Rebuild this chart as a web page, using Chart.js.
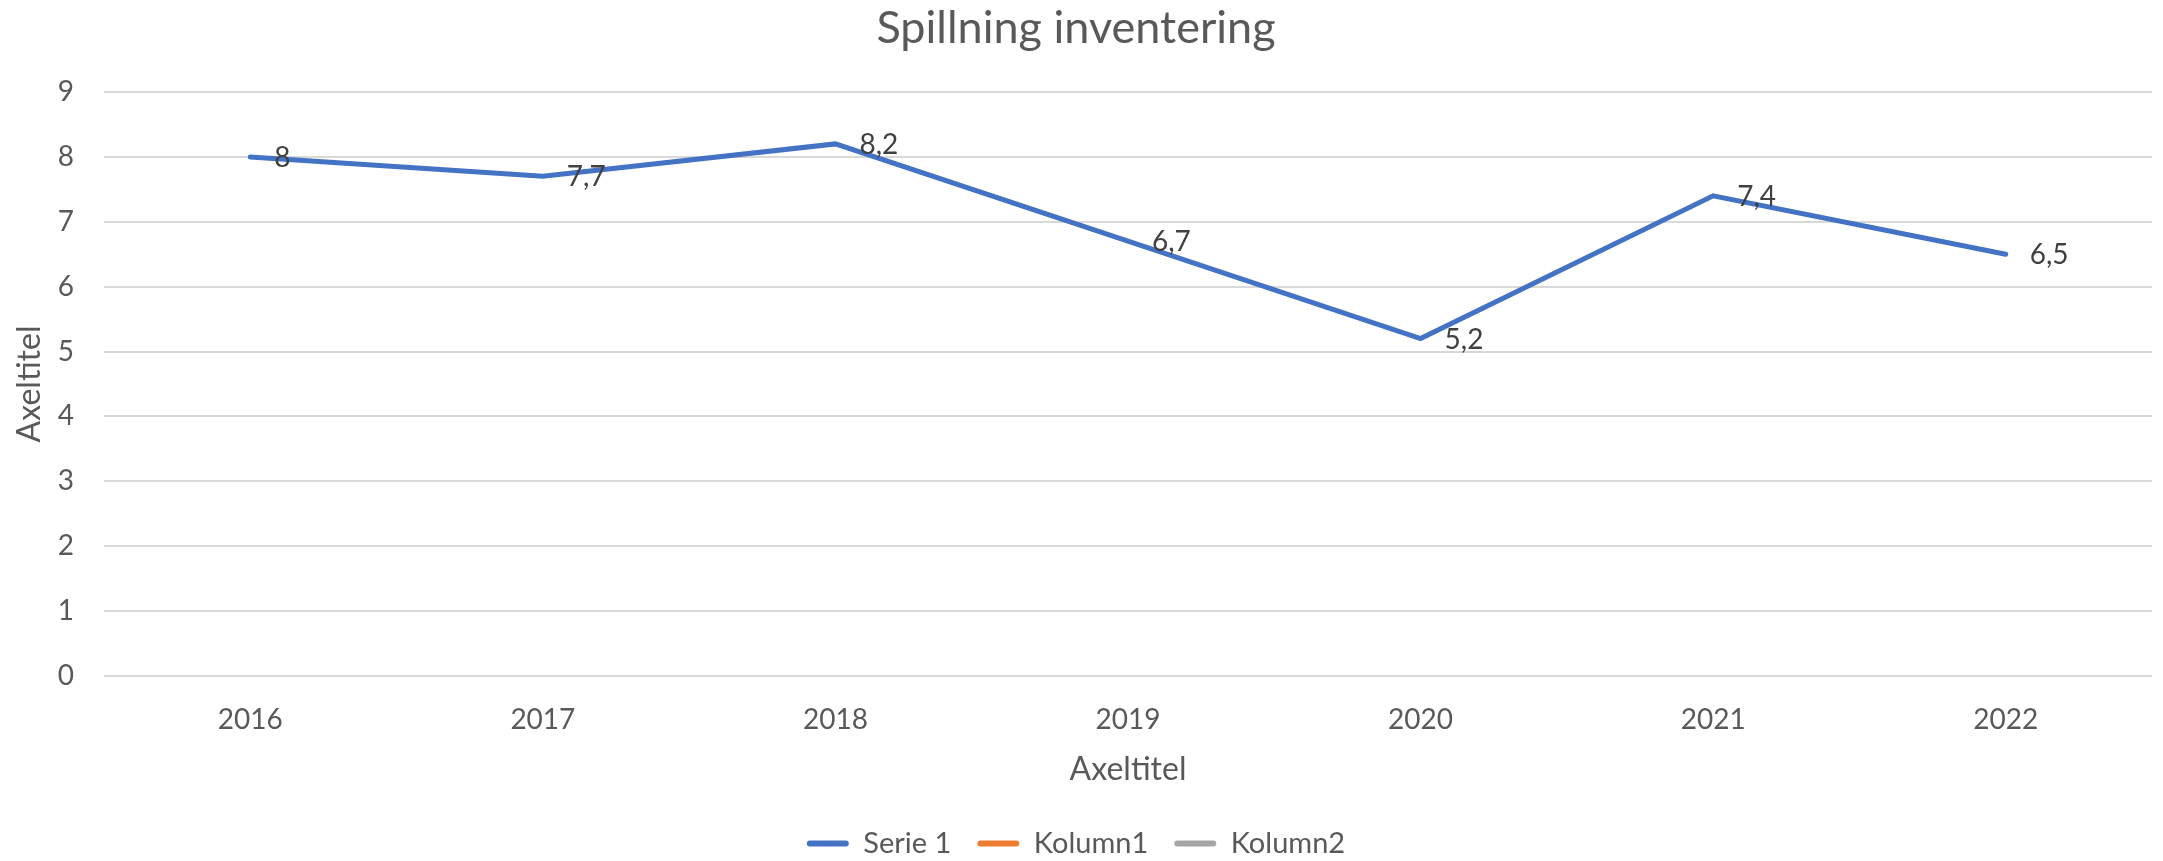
<!DOCTYPE html>
<html>
<head>
<meta charset="utf-8">
<script src="https://cdn.jsdelivr.net/npm/chart.js@4/dist/chart.umd.min.js"></script>
<style>
  html, body { margin: 0; padding: 0; background: #fff; }
  #wrap { width: 2163px; height: 861px; }
</style>
</head>
<body>
<div id="wrap"><canvas id="chart"></canvas></div>
<script>
  const years = ['2016', '2017', '2018', '2019', '2020', '2021', '2022'];
  const serie1 = [8, 7.7, 8.2, 6.7, 5.2, 7.4, 6.5];
  const kolumn1 = [];
  const kolumn2 = [];
  const seriesNames = ['Serie 1', 'Kolumn1', 'Kolumn2'];
  const seriesColors = ['#4472C4', '#ED7D31', '#A5A5A5'];

  const FONT = 'Lato, "Open Sans", sans-serif';

  // simple data labels, placed right of each point
  const valueLabels = {
    id: 'valueLabels',
    afterDatasetsDraw(chart) {
      const ctx = chart.ctx;
      const meta = chart.getDatasetMeta(0);
      const data = chart.data.datasets[0].data;
      ctx.save();
      ctx.font = '28px ' + FONT;
      ctx.fillStyle = '#404040';
      ctx.textAlign = 'left';
      ctx.textBaseline = 'middle';
      meta.data.forEach((pt, i) => {
        const txt = String(data[i]).replace('.', ',');
        ctx.fillText(txt, pt.x + 24, pt.y + 1);
      });
      ctx.restore();
    }
  };

  new Chart(document.getElementById('chart'), {
    type: 'line',
    data: {
      labels: years,
      datasets: [serie1, kolumn1, kolumn2].map((d, i) => ({
        label: seriesNames[i],
        data: d,
        borderColor: seriesColors[i],
        backgroundColor: seriesColors[i],
        borderWidth: 5,
        pointRadius: 0,
        tension: 0,
        borderCapStyle: 'round',
        borderJoinStyle: 'miter'
      }))
    },
    options: {
      responsive: true,
      maintainAspectRatio: false,
      animation: false,
      layout: { padding: { left: 0, right: 11, top: 0, bottom: -7 } },
      plugins: {
        title: {
          display: true,
          text: 'Spillning inventering',
          color: '#595959',
          font: { family: FONT, size: 45, weight: 'normal' },
          padding: { top: 1, bottom: 37 }
        },
        legend: {
          position: 'bottom',
          labels: {
            color: '#595959',
            font: { family: FONT, size: 29 },
            boxWidth: 42,
            boxHeight: 6,
            useBorderRadius: true,
            borderRadius: 3,
            padding: 26,
            generateLabels(chart) {
              return chart.data.datasets.map((ds, i) => ({
                text: ds.label,
                fillStyle: seriesColors[i],
                strokeStyle: seriesColors[i],
                lineWidth: 0,
                borderRadius: 3,
                fontColor: '#595959',
                datasetIndex: i
              }));
            }
          }
        },
        tooltip: { enabled: false }
      },
      scales: {
        x: {
          offset: true,
          grid: { display: false },
          border: { display: false },
          ticks: { color: '#595959', font: { family: FONT, size: 28 }, padding: 19 },
          title: {
            display: true,
            text: 'Axeltitel',
            color: '#595959',
            font: { family: FONT, size: 32 },
            padding: { top: 7, bottom: 14 }
          },
          afterFit(scale) { scale.height = scale.height - 12; }
        },
        y: {
          min: 0,
          max: 9,
          ticks: { stepSize: 1, color: '#595959', font: { family: FONT, size: 28 }, padding: 30 },
          grid: { color: '#D9D9D9', lineWidth: 2, drawTicks: false },
          border: { display: false },
          title: {
            display: true,
            text: 'Axeltitel',
            color: '#595959',
            font: { family: FONT, size: 32 },
            padding: { top: 10, bottom: 0 }
          },
          afterFit(scale) { scale.width = 104; }
        }
      }
    },
    plugins: [valueLabels]
  });
</script>
</body>
</html>
